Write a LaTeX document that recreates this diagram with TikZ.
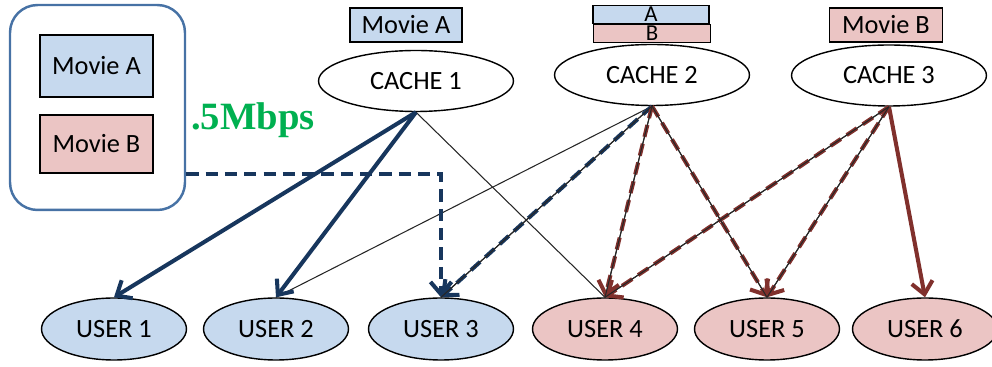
\documentclass[tikz,border=0pt]{standalone}
\usepackage{fontspec}
\setmainfont{Carlito}
\newfontfamily\ratefont{Liberation Serif}
\usetikzlibrary{shapes.geometric,arrows.meta}
\definecolor{navy}{RGB}{23,54,93}
\definecolor{rust}{RGB}{128,48,44}
\definecolor{lblue}{RGB}{198,217,238}
\definecolor{lpink}{RGB}{235,197,196}
\definecolor{frameblue}{RGB}{71,114,165}
\definecolor{rategreen}{RGB}{0,176,80}
\begin{document}
\begin{tikzpicture}[x=0.02cm, y=-0.02cm, font=\fontsize{15}{18}\selectfont,
		cache/.style={ellipse, draw, thick, fill=white, minimum width=3.9cm, minimum height=1.22cm, inner sep=0pt},
		user/.style={ellipse, draw, thick, minimum width=2.9cm, minimum height=1.24cm, inner sep=0pt},
		movie/.style={rectangle, draw, thick, inner sep=0pt},
		letter/.style={movie, minimum height=0.37cm, font=\fontsize{13}{13}\selectfont},
		wire/.style={draw, line width=0.6pt, black!85},
		tip/.style={-{Straight Barb[length=7pt, width=12pt]}},
		solid link/.style={tip, line width=2.3pt},
		dash link/.style={tip, line width=2.3pt, dash pattern=on 7pt off 4pt}]
			\useasboundingbox (0,0) rectangle (992,367);
			
			% library of movies on the left
			\node[rectangle, draw=frameblue, line width=1.4pt, rounded corners=0.55cm, minimum width=3.5cm, minimum height=4.1cm] (lib) at (97.5,107.5) {};
			\node[movie, fill=lblue, minimum width=2.26cm, minimum height=1.24cm] (ma) at (96.5,66) {Movie A};
			\node[movie, fill=lpink, minimum width=2.26cm, minimum height=1.16cm] (mb) at (96.5,144) {Movie B};
			\node[text=rategreen, font=\ratefont\bfseries\fontsize{22}{26}\selectfont] (rate) at (253,120) {.5Mbps};
			
			% caches
			\node[cache] (c1) at (416,81) {CACHE 1};
			\node[cache] (c2) at (652,75) {CACHE 2};
			\node[cache] (c3) at (889,75.5) {CACHE 3};
			
			\node[movie, fill=lblue, minimum width=2.24cm, minimum height=0.68cm] (c1a) at (406,25) {Movie A};
			\node[letter, fill=lblue, minimum width=2.32cm] (c2a) at (651,14.5) {A};
			\node[letter, fill=lpink, minimum width=2.34cm] (c2b) at (652,33.5) {B};
			\node[movie, fill=lpink, minimum width=2.26cm, minimum height=0.68cm] (c3b) at (886,25) {Movie B};
			
			% users
			\foreach \name/\x/\col in {1/114/lblue,2/276/lblue,3/441/lblue,4/605/lpink,5/767/lpink,6/925/lpink}
				\node[user, fill=\col] (u\name) at (\x,329) {USER \name};
			
			% all links
			\foreach \from / \to in {c1/u4,c2/u2,c2/u3,c2/u4,c2/u5,c3/u4,c3/u5}
				\path (\from.south) edge[wire] (\to.north);
			
			% movie A streams
			\foreach \to in {u1,u2}
				\draw[solid link, navy] (c1.south) -- (\to.north);
			\draw[dash link, navy] (c2.south) -- (u3.north);
			\draw[dash link, navy] (lib.east |- mb.south) -| (u3.north);
			
			% movie B streams
			\foreach \from / \to in {c2/u4,c2/u5,c3/u4,c3/u5}
				\draw[dash link, rust] (\from.south) -- (\to.north);
			\draw[solid link, rust] (c3.south) -- (u6.north);
			
			% thin wires show through the dashes
			\foreach \from / \to in {c2/u3,c2/u4,c2/u5,c3/u4,c3/u5}
				\path (\from.south) edge[wire] (\to.north);
		\end{tikzpicture}
\end{document}
